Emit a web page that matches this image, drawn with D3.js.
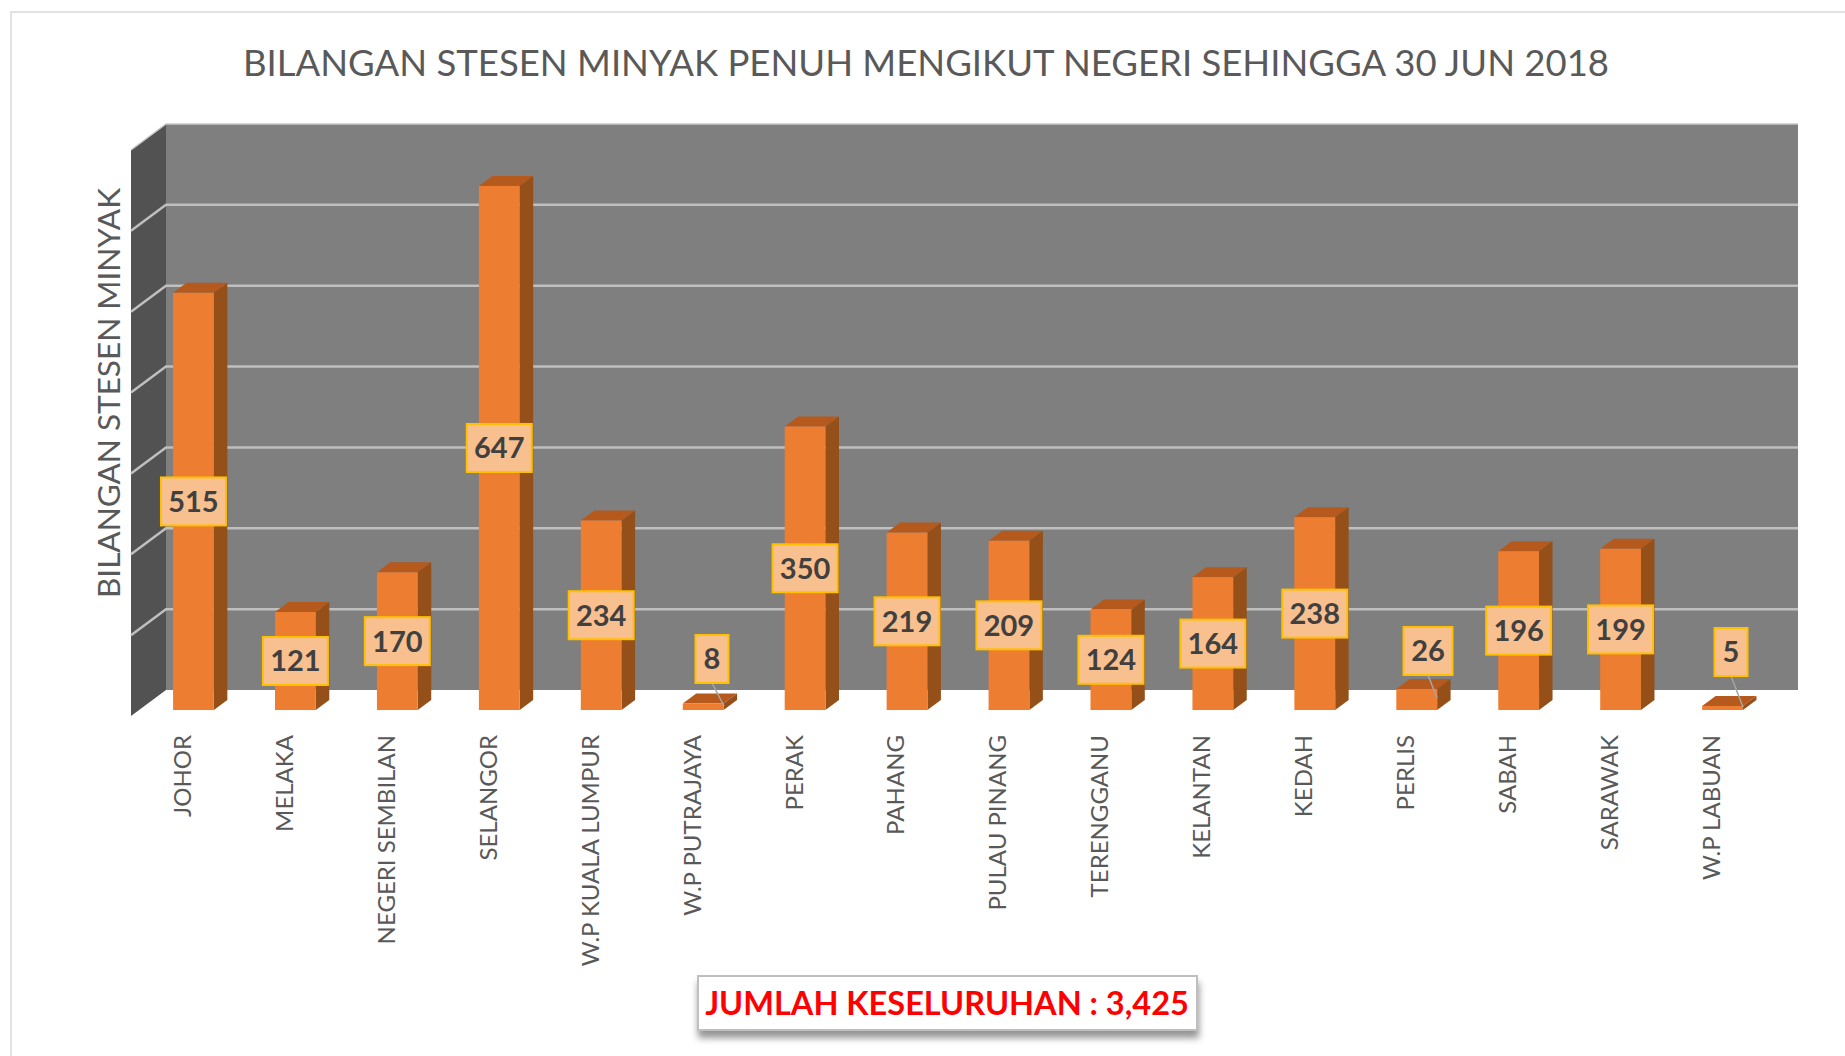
<!DOCTYPE html>
<html>
<head>
<meta charset="utf-8">
<title>Bilangan stesen minyak</title>
<script src="https://cdn.jsdelivr.net/npm/d3@7/dist/d3.min.js"></script>
<style>
    html, body { margin: 0; padding: 0; background: #fff; }
    svg { display: block; }
    text { font-family: Lato, "Open Sans", sans-serif; }
</style>
</head>
<body>
<svg id="chart"></svg>
<script>
var negeri = ['JOHOR', 'MELAKA', 'NEGERI SEMBILAN', 'SELANGOR', 'W.P KUALA LUMPUR', 'W.P PUTRAJAYA', 'PERAK', 'PAHANG',
    'PULAU PINANG', 'TERENGGANU', 'KELANTAN', 'KEDAH', 'PERLIS', 'SABAH', 'SARAWAK', 'W.P LABUAN'];
var bilangan = [515, 121, 170, 647, 234, 8, 350, 219, 209, 124, 164, 238, 26, 196, 199, 5];
var gridValues = [0, 100, 200, 300, 400, 500, 600, 700];

var titleText = 'BILANGAN STESEN MINYAK PENUH MENGIKUT NEGERI SEHINGGA 30 JUN 2018';
var yTitleText = 'BILANGAN STESEN MINYAK';
var totalText = 'JUMLAH KESELURUHAN : 3,425';

var width = 1845, height = 1056;

// base of the bars is a bit in front of the back wall
var baseY = 710;
var depth = {x: 13.5, y: 10};      // bar depth
var wall = {x: 35, y: 26};         // side wall depth
var backLeft = 166, backRight = 1798, backBottom = 690;

var data = bilangan.map(function(d, i) { return {negeri: negeri[i], nilai: d}; });

var svg = d3.select('#chart').attr('width', width).attr('height', height);

var defs = svg.append('defs');
var shadow = defs.append('filter').attr('id', 'boxShadow')
    .attr('x', '-5%').attr('y', '-30%').attr('width', '110%').attr('height', '170%');
shadow.append('feDropShadow').attr('dx', 1).attr('dy', 7).attr('stdDeviation', 3.5)
    .attr('flood-color', '#000').attr('flood-opacity', 0.42);

var x = d3.scaleBand()
    .domain(negeri)
    .range([142.5, 1773.5])
    .paddingInner(0.6)
    .paddingOuter(0.3);

// front plane of the bars
var y = d3.scaleLinear()
    .domain([0, 700])
    .range([baseY, baseY - 567]);

// same scale pushed back on to the wall
var yBack = d3.scaleLinear()
    .domain([0, 700])
    .range([backBottom, backBottom - 566]);

// outer frame of the chart
svg.append('path')
    .attr('d', 'M11,' + height + 'V12H' + width)
    .attr('fill', 'none')
    .attr('stroke', '#d9d9d9')
    .attr('stroke-width', 1.5);

// walls
svg.append('rect')
    .attr('x', backLeft).attr('y', yBack(700))
    .attr('width', backRight - backLeft).attr('height', backBottom - yBack(700))
    .attr('fill', '#7f7f7f');

svg.append('polygon')
    .attr('points', [
        [backLeft, yBack(700)], [backLeft, backBottom],
        [backLeft - wall.x, backBottom + wall.y], [backLeft - wall.x, yBack(700) + wall.y]
    ].join(' '))
    .attr('fill', '#525252');

// gridlines
var grid = svg.append('g').attr('class', 'grid');
grid.selectAll('path')
    .data(gridValues.slice(1, 7))
    .enter().append('path')
    .attr('d', function(d) {
        return 'M' + (backLeft - wall.x) + ',' + (yBack(d) + wall.y) +
            'L' + backLeft + ',' + yBack(d) + 'H' + backRight;
    })
    .attr('fill', 'none')
    .attr('stroke', '#bfbfbf')
    .attr('stroke-width', 2.5);

// wall edges
svg.append('path')
    .attr('d', 'M' + (backLeft - wall.x) + ',' + (yBack(700) + wall.y) + 'L' + backLeft + ',' + yBack(700) + 'H' + backRight)
    .attr('fill', 'none').attr('stroke', '#c8c8c8').attr('stroke-width', 1.5);

// bars
var bar = svg.append('g').selectAll('g')
    .data(data)
    .enter().append('g')
    .attr('transform', function(d) { return 'translate(' + x(d.negeri) + ',0)'; });

var bw = x.bandwidth();

bar.append('polygon')
    .attr('points', function(d) {
        var t = y(d.nilai);
        return [[0, t], [depth.x, t - depth.y], [bw + depth.x, t - depth.y], [bw, t]].join(' ');
    })
    .attr('fill', '#b5591d');

bar.append('polygon')
    .attr('points', function(d) {
        var t = y(d.nilai);
        return [[bw, t], [bw + depth.x, t - depth.y], [bw + depth.x, baseY - depth.y], [bw, baseY]].join(' ');
    })
    .attr('fill', '#95501a');

bar.append('rect')
    .attr('y', function(d) { return y(d.nilai); })
    .attr('width', bw)
    .attr('height', function(d) { return baseY - y(d.nilai); })
    .attr('fill', '#ed7d31');

// small bars have their label lifted away with a leader line
var lifted = {'W.P PUTRAJAYA': {cx: 712, cy: 659}, 'PERLIS': {cx: 1428, cy: 651}, 'W.P LABUAN': {cx: 1731, cy: 652}};
var leaderEnd = {'W.P PUTRAJAYA': [724, 706], 'PERLIS': [1437, 698], 'W.P LABUAN': [1743, 707]};

function labelPos(d) {
    return lifted[d.negeri] || {cx: x(d.negeri) + bw / 2, cy: y(d.nilai / 2)};
}

function labelWidth(d) {
    var n = String(d.nilai).length;
    return n === 1 ? 33 : n === 2 ? 49 : 65;
}

var labels = svg.append('g').selectAll('g')
    .data(data)
    .enter().append('g')
    .attr('transform', function(d) {
        var p = labelPos(d);
        return 'translate(' + p.cx + ',' + p.cy + ')';
    });

labels.filter(function(d) { return lifted[d.negeri]; })
    .append('line')
    .attr('x1', 0).attr('y1', 24)
    .attr('x2', function(d) { return leaderEnd[d.negeri][0] - lifted[d.negeri].cx; })
    .attr('y2', function(d) { return leaderEnd[d.negeri][1] - lifted[d.negeri].cy; })
    .attr('stroke', '#a6a6a6')
    .attr('stroke-width', 1.5);

labels.append('rect')
    .attr('x', function(d) { return -labelWidth(d) / 2; })
    .attr('y', -24)
    .attr('width', labelWidth)
    .attr('height', 48)
    .attr('fill', '#f8bf8f')
    .attr('stroke', '#ffc000')
    .attr('stroke-width', 2);

labels.append('text')
    .attr('text-anchor', 'middle')
    .attr('dy', '0.36em')
    .attr('font-size', 29)
    .attr('font-weight', 700)
    .attr('fill', '#404040')
    .text(function(d) { return d.nilai; });

// category labels
var xAxis = svg.append('g')
    .attr('transform', 'translate(-11,735)')
    .call(d3.axisBottom(x).tickSize(0).tickPadding(0));
xAxis.select('.domain').remove();
xAxis.selectAll('text')
    .attr('transform', 'rotate(-90)')
    .attr('x', 0).attr('y', 0).attr('dy', '0.35em')
    .attr('text-anchor', 'end')
    .attr('font-family', 'Lato, sans-serif')
    .attr('font-size', 24)
    .attr('fill', '#595959');

// titles
svg.append('text')
    .attr('x', 926).attr('y', 76)
    .attr('text-anchor', 'middle')
    .attr('font-size', 36.5)
    .attr('fill', '#595959')
    .text(titleText);

svg.append('text')
    .attr('transform', 'translate(120,393) rotate(-90)')
    .attr('text-anchor', 'middle')
    .attr('font-size', 31.5)
    .attr('fill', '#595959')
    .text(yTitleText);

// total box
svg.append('rect')
    .attr('x', 698).attr('y', 976)
    .attr('width', 499).attr('height', 54)
    .attr('fill', '#fff')
    .attr('stroke', '#bfbfbf')
    .attr('stroke-width', 2)
    .attr('filter', 'url(#boxShadow)');

svg.append('text')
    .attr('x', 947).attr('y', 1015)
    .attr('text-anchor', 'middle')
    .attr('font-size', 32.5)
    .attr('font-weight', 700)
    .attr('fill', '#ff0000')
    .text(totalText);
</script>
</body>
</html>
